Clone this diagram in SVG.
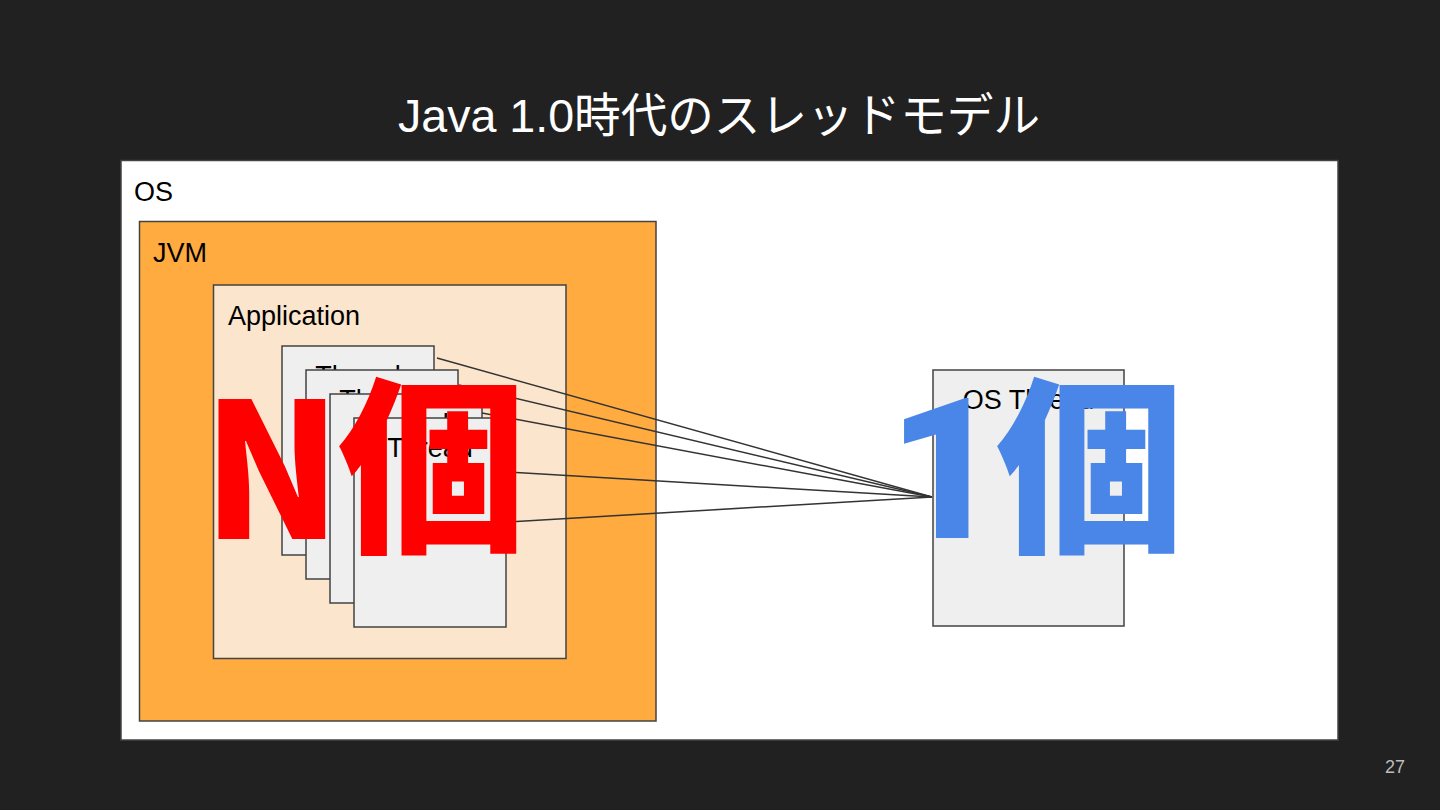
<svg xmlns="http://www.w3.org/2000/svg" width="1440" height="810" viewBox="0 0 1440 810">
<style>
.box{stroke:#434343;stroke-width:1.5}
.lbl{font-family:"Liberation Sans","Noto Sans CJK JP",sans-serif;font-size:27px;fill:#000}
.mid{text-anchor:middle}
.big{font-family:"Noto Sans CJK JP",sans-serif;font-weight:900;font-size:188px}
.num{font-family:Roboto,"Noto Sans CJK JP",sans-serif;font-weight:900;font-size:197px}
.conn line{stroke:#333;stroke-width:1.5}
</style>
<rect width="1440" height="810" fill="#212121"/>
<text x="719" y="132" text-anchor="middle" font-family="'Liberation Sans','Noto Sans CJK JP',sans-serif" font-size="46.6" fill="#fff">Java 1.0時代のスレッドモデル</text>
<g id="os">
<rect x="121" y="160.5" width="1217" height="579.5" fill="#fff" class="box"/>
<text x="134" y="200.5" class="lbl">OS</text>
</g>
<g id="jvm">
<rect x="139.5" y="221.5" width="516.5" height="499.5" fill="#ffab40" class="box"/>
<text x="153" y="261.5" class="lbl">JVM</text>
</g>
<g id="application">
<rect x="213.5" y="285" width="352.5" height="373.5" fill="#fce5cd" class="box"/>
<text x="228" y="325" class="lbl">Application</text>
</g>
<g id="thread1">
<rect x="282" y="346" width="152" height="209" fill="#efefef" class="box"/>
<text x="358" y="385" class="lbl mid">Thread</text>
</g>
<g id="thread2">
<rect x="306" y="370" width="152" height="209" fill="#efefef" class="box"/>
<text x="382" y="409" class="lbl mid">Thread</text>
</g>
<g id="thread3">
<rect x="330" y="394" width="152" height="209" fill="#efefef" class="box"/>
<text x="406" y="433" class="lbl mid">Thread</text>
</g>
<g id="thread4">
<rect x="354" y="418" width="152" height="209" fill="#efefef" class="box"/>
<text x="430" y="457" class="lbl mid">Thread</text>
</g>
<g id="osthread">
<rect x="933" y="370" width="191" height="256" fill="#efefef" class="box"/>
<text x="1028.5" y="409" class="lbl mid">OS Thread</text>
</g>
<g class="conn" id="connectors">
<line x1="437" y1="358" x2="932" y2="497"/>
<line x1="459" y1="385" x2="932" y2="497"/>
<line x1="482" y1="413" x2="932" y2="497"/>
<line x1="506" y1="472" x2="932" y2="497"/>
<line x1="506" y1="522" x2="932" y2="497"/>
</g>
<g id="n-label" fill="#ff0000">
<text transform="translate(203,539) scale(0.96,1)" x="0" y="0" class="big" font-size="185">N</text>
<text x="338" y="537" class="big">個</text>
</g>
<g id="one-label" fill="#4a86e8">
<text x="888" y="538" class="num">1</text>
<text x="996" y="537" class="big">個</text>
</g>
<text x="1405" y="773" text-anchor="end" font-family="'Liberation Sans',sans-serif" font-size="18" fill="#bdbdbd">27</text>
</svg>
